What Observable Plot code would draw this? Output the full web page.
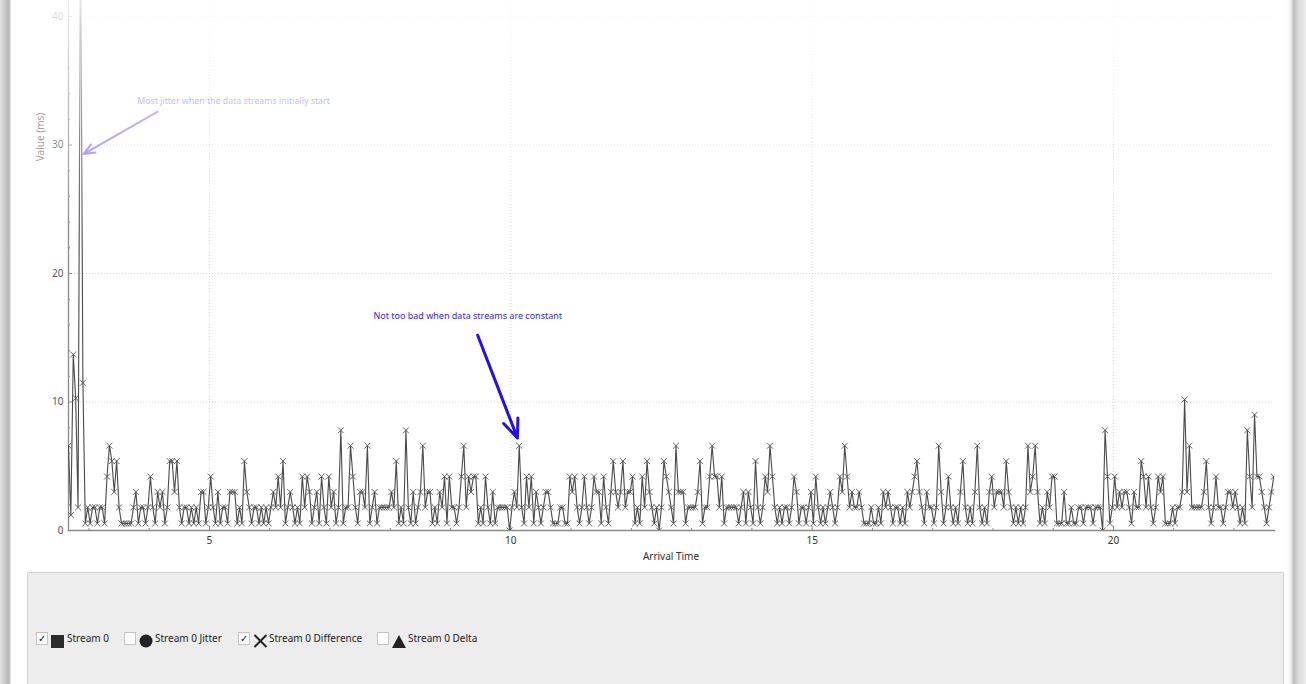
<!DOCTYPE html>
<html>
<head>
<meta charset="utf-8">
<script src="https://cdn.jsdelivr.net/npm/d3@7"></script>
<script src="https://cdn.jsdelivr.net/npm/@observablehq/plot@0.6"></script>
<style>
  html, body { margin: 0; padding: 0; width: 1306px; height: 684px; overflow: hidden; background: #fff; font-family: "Noto Sans", sans-serif; }
  #chart { position: absolute; left: 0; top: 0; }
  .haze { position: absolute; left: 0; top: 0; width: 1306px; height: 230px; pointer-events: none;
          background: linear-gradient(to bottom, rgba(255,255,255,0.85), rgba(255,255,255,0)); }
  .edge-left { position: absolute; left: 0; top: 0; width: 12px; height: 684px;
               background: linear-gradient(to right, #e2e2e2, #b4b4b4 75%, #f4f4f4 92%, #fff); }
  .edge-right { position: absolute; left: 1287px; top: 0; width: 19px; height: 684px;
                background: linear-gradient(to right, #fff, #f0f0f0 20%, #bdbdbd 35%, #dcdcdc 60%, #ececec); }
  .axis-title { position: absolute; font-size: 10px; color: #333; white-space: nowrap; }
  #ytitle { left: 10px; top: 130px; width: 60px; text-align: center; color: #a0a0a0; transform: rotate(-90deg); }
  #xtitle { left: 611px; top: 549px; width: 120px; text-align: center; }
  .legend { position: absolute; left: 27px; top: 572px; width: 1255px; height: 120px; background: #ededed;
            border: 1px solid #d2d2d2; border-radius: 2px; }
  .item { position: absolute; top: 632px; height: 13px; font-size: 10px; color: #222; line-height: 13px; white-space: nowrap; }
  .box { position: absolute; top: 632px; width: 10px; height: 11px; background: #fff; border: 1px solid #c4c4c4;
         font-size: 10px; line-height: 11px; text-align: center; color: #111; }
  .sym { position: absolute; }
</style>
</head>
<body>
<div id="chart"></div>
<div class="haze"></div>
<div id="ytitle" class="axis-title">Value (ms)</div>
<div id="xtitle" class="axis-title">Arrival Time</div>
<div class="legend"></div>
<div id="legend-items"></div>
<div class="edge-left"></div>
<div class="edge-right"></div>
<script>
// RTP stream 0: difference between expected and actual arrival (ms), one sample per packet slot
const firstArrival = 2.66;      // s
const packetInterval = 0.04;    // s between samples

// the first packets, while the streams start up
const startupDiff = [6.6, 1.2, 13.7, 10.3, 1.8, 48, 11.5];

// steady-state differences fall on discrete steps; each code indexes diffLevels
const diffLevels = [0.55, 1.8, 3.0, 4.2, 5.4, 6.6, 7.8, 9.0, 10.2, 0.0];
const steadyDiffCodes = [
  "0101101103", "5424100000", "1201101310", "2120144241", "0110101022",
  "0131020110", "2220104210", "1101010121", "3140121010", "3132012031",
  "0312016011", "5310221501", "2011111214", "0106102012", "5122010213",
  "0311013513", "2330103102", "0111119121", "5103130210", "1221000110",
  "0323101310", "1322031024", "2124122301", "0314210191", "4321052220",
  "1111240113", "5331301111", "1012021041", "0132531010", "1101320110",
  "1203101012", "1013253121", "1210001001", "0212101101", "0212342102",
  "1101520131", "0102410102", "5101023122", "2142101010", "1523520102",
  "1330002001", "0011011101", "1196301312", "1221021143", "1310132300",
  "0101128251", "1111241013", "1101221210", "1063173321", "0123"
];

// axis ticks
const xMajor = [5, 10, 15, 20];
const xMinor = [3, 4, 6, 7, 8, 9, 11, 12, 13, 14, 16, 17, 18, 19, 21, 22];
const yMajor = [0, 10, 20, 30, 40];
const yMinor = [2, 4, 6, 8, 12, 14, 16, 18, 22, 24, 26, 28, 32, 34, 36, 38];

// annotations
const noteStart = {text: "Most jitter when the data streams initially start", x: 3.80, y: 33.45, x1: 4.14, y1: 32.6, x2: 2.91, y2: 29.3};
const noteSteady = {text: "Not too bad when data streams are constant", x: 7.72, y: 16.65, x1: 9.45, y1: 15.2, x2: 10.11, y2: 7.2};

const diff = startupDiff.concat(steadyDiffCodes.join("").split("").map(c => diffLevels[+c]));
const rows = diff.map((v, i) => ({t: firstArrival + i * packetInterval, v}));

const chart = Plot.plot({
  width: 1306,
  height: 566,
  marginLeft: 68,
  marginRight: 32,
  marginTop: 0,
  marginBottom: 36,
  x: {domain: [2.661, 22.671]},
  y: {domain: [0, 41.25]},
  style: {fontFamily: "Noto Sans", fontSize: "10px", color: "#555", background: "transparent", overflow: "visible"},
  marks: [
    Plot.gridX(xMajor, {stroke: "#d6d6d6", strokeOpacity: 1, strokeDasharray: "1,2"}),
    Plot.gridY(yMajor.filter(d => d > 0), {stroke: "#d6d6d6", strokeOpacity: 1, strokeDasharray: "1,2"}),
    Plot.axisX(xMinor, {tickSize: -2, text: null, label: null, stroke: "#8a8a8a"}),
    Plot.axisX(xMajor, {tickSize: -4, text: null, label: null, stroke: "#8a8a8a"}),
    Plot.axisX(xMajor, {tickSize: 0, tickPadding: 6, label: null, fill: "#333"}),
    Plot.axisY(yMinor, {tickSize: -2, text: null, label: null, stroke: "#8a8a8a"}),
    Plot.axisY(yMajor, {tickSize: -4, text: null, label: null, stroke: "#8a8a8a"}),
    Plot.axisY(yMajor, {tickSize: 0, tickPadding: 5, label: null, fill: "#555"}),
    Plot.frame({anchor: "left", stroke: "#8a8a8a", strokeWidth: 1.3}),
    Plot.frame({anchor: "bottom", stroke: "#8a8a8a", strokeWidth: 1.3}),
    Plot.line(rows, {x: "t", y: "v", stroke: "#4a4a4a", strokeWidth: 1.1, clip: true}),
    Plot.dot(rows, {x: "t", y: "v", symbol: "times", r: 2.8, stroke: "#555", strokeWidth: 0.9, clip: true}),
    Plot.text([noteStart], {x: "x", y: "y", text: "text", textAnchor: "start", lineAnchor: "middle", fill: "#8f82f4", fontSize: 8.8}),
    Plot.arrow([noteStart], {x1: "x1", y1: "y1", x2: "x2", y2: "y2", stroke: "#8f80f4", strokeWidth: 2, headLength: 9, headAngle: 45}),
    Plot.text([noteSteady], {x: "x", y: "y", text: "text", textAnchor: "start", lineAnchor: "middle", fill: "#3a26f0", fontSize: 9}),
    Plot.arrow([noteSteady], {x1: "x1", y1: "y1", x2: "x2", y2: "y2", stroke: "#2410ee", strokeWidth: 3, headLength: 10, headAngle: 45})
  ]
});
document.getElementById("chart").appendChild(chart);

// legend row: series toggles as in the analysis dialog
const legendSeries = ["Stream 0", "Stream 0 Jitter", "Stream 0 Difference", "Stream 0 Delta"];
const legendChecked = [true, false, true, false];
const legendSymbols = ["square", "circle", "times", "triangle"];
const boxLeft = [36, 124, 238, 377];
const holder = document.getElementById("legend-items");
const symSvg = {
  square: '<svg width="13" height="13"><rect x="0" y="0" width="13" height="13" fill="#2b2b2b"/></svg>',
  circle: '<svg width="14" height="14"><circle cx="7" cy="7" r="6.5" fill="#222"/></svg>',
  times: '<svg width="15" height="14"><path d="M1.5 1 L13.5 13 M13.5 1 L1.5 13" stroke="#222" stroke-width="2"/></svg>',
  triangle: '<svg width="14" height="13"><path d="M7 0 L14 13 L0 13 Z" fill="#222"/></svg>'
};
legendSeries.forEach((name, i) => {
  const x = boxLeft[i];
  const box = document.createElement("div");
  box.className = "box";
  box.style.left = x + "px";
  box.textContent = legendChecked[i] ? "✓" : "";
  holder.appendChild(box);
  const sym = document.createElement("div");
  sym.className = "sym";
  sym.style.left = (x + 15) + "px";
  sym.style.top = "631px";
  sym.innerHTML = symSvg[legendSymbols[i]];
  holder.appendChild(sym);
  const label = document.createElement("div");
  label.className = "item";
  label.style.left = (x + 31) + "px";
  label.textContent = name;
  holder.appendChild(label);
});
</script>
</body>
</html>
